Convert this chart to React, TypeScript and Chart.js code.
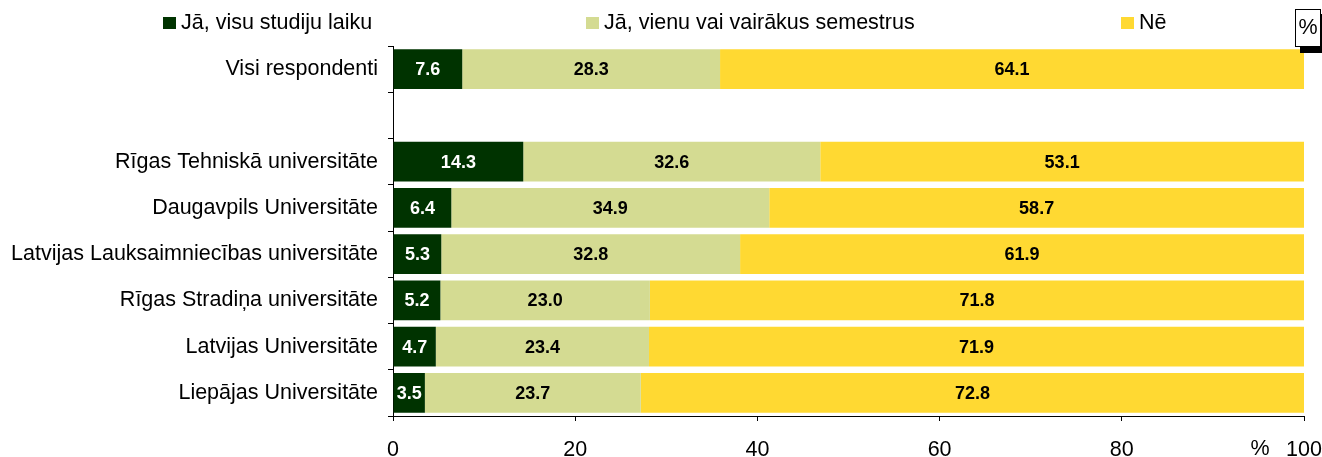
import React, { useEffect, useRef } from 'react';
import { Chart, registerables } from 'chart.js';

Chart.register(...registerables);

const categories = [
  'Visi respondenti',
  '',
  'Rīgas Tehniskā universitāte',
  'Daugavpils Universitāte',
  'Latvijas Lauksaimniecības universitāte',
  'Rīgas Stradiņa universitāte',
  'Latvijas Universitāte',
  'Liepājas Universitāte',
];
const seriesNames = ['Jā, visu studiju laiku', 'Jā, vienu vai vairākus semestrus', 'Nē'];
const allStudies = [7.6, null, 14.3, 6.4, 5.3, 5.2, 4.7, 3.5];
const someSemesters = [28.3, null, 32.6, 34.9, 32.8, 23.0, 23.4, 23.7];
const notAtAll = [64.1, null, 53.1, 58.7, 61.9, 71.8, 71.9, 72.8];
const xTicks = [0, 20, 40, 60, 80, 100];

const colors = ['#003300', '#D4DB92', '#FFD932'];
const FONT = 'Arial, "Liberation Sans", sans-serif';
const FS = 21.5;

const labelsPlugin = {
  id: 'barLabels',
  afterDatasetsDraw(chart: any) {
    const ctx = chart.ctx;
    ctx.save();
    ctx.font = `bold 18px ${FONT}`;
    ctx.textAlign = 'center';
    ctx.textBaseline = 'middle';
    chart.data.datasets.forEach((ds: any, di: number) => {
      const meta = chart.getDatasetMeta(di);
      meta.data.forEach((bar: any, i: number) => {
        const v = ds.data[i];
        if (v === null || v === undefined) return;
        const x = (bar.x + bar.base) / 2;
        ctx.fillStyle = di === 0 ? '#FFFFFF' : '#000000';
        ctx.fillText(v.toFixed(1), x, bar.y + 1);
      });
    });
    ctx.restore();
  },
};

const decorPlugin = {
  id: 'decor',
  afterDraw(chart: any) {
    const ctx = chart.ctx;
    ctx.save();
    // legend
    const items = [
      { x: 163, label: seriesNames[0] },
      { x: 586, label: seriesNames[1] },
      { x: 1121, label: seriesNames[2] },
    ];
    ctx.font = `${FS}px ${FONT}`;
    ctx.textBaseline = 'middle';
    ctx.textAlign = 'left';
    items.forEach((it, i) => {
      ctx.fillStyle = colors[i];
      ctx.fillRect(it.x, 17, 13, 12);
      ctx.fillStyle = '#000';
      ctx.fillText(it.label, it.x + 18, 23);
    });
    // % box top right
    ctx.fillStyle = '#000';
    ctx.fillRect(1300, 14, 22, 39);
    ctx.fillStyle = '#fff';
    ctx.fillRect(1295, 9, 26, 38);
    ctx.strokeStyle = '#000';
    ctx.lineWidth = 1;
    ctx.strokeRect(1295.5, 9.5, 25, 37);
    ctx.fillStyle = '#000';
    ctx.textAlign = 'center';
    ctx.font = `${FS}px ${FONT}`;
    ctx.fillText('%', 1308, 28);
    // % near last x tick
    const xs = chart.scales.x;
    ctx.fillText('%', xs.getPixelForValue(100) - 44, 449);
    ctx.restore();
  },
};

export default function App() {
  const ref = useRef<HTMLCanvasElement>(null);
  useEffect(() => {
    document.body.style.margin = '0';
    const chart = new Chart(ref.current!, {
      type: 'bar',
      data: {
        labels: categories,
        datasets: [
          { label: seriesNames[0], data: allStudies, backgroundColor: colors[0] },
          { label: seriesNames[1], data: someSemesters, backgroundColor: colors[1] },
          { label: seriesNames[2], data: notAtAll, backgroundColor: colors[2] },
        ],
      },
      options: {
        indexAxis: 'y',
        animation: false,
        responsive: false,
        maintainAspectRatio: false,
        datasets: { bar: { barPercentage: 0.86, categoryPercentage: 1 } } as any,
        layout: { padding: { top: 46, right: 18, left: 0, bottom: 0 } },
        plugins: { legend: { display: false }, tooltip: { enabled: false } },
        scales: {
          x: {
            stacked: true,
            min: 0,
            max: 100,
            afterBuildTicks(scale: any) {
              scale.ticks = xTicks.map((v) => ({ value: v }));
            },
            afterFit(scale: any) {
              scale.height = 41;
              scale.paddingLeft = 0;
              scale.paddingRight = 0;
            },
            ticks: { color: '#000', font: { size: FS, family: FONT }, padding: 16, maxRotation: 0 },
            grid: { drawOnChartArea: false, tickLength: 5, color: '#000', tickColor: '#000' },
            border: { color: '#000', width: 1 },
          },
          y: {
            stacked: true,
            afterFit(scale: any) {
              scale.width = 393;
              scale.paddingTop = 0;
              scale.paddingBottom = 0;
            },
            ticks: { color: '#000', font: { size: FS, family: FONT }, padding: 10, autoSkip: false },
            grid: { drawOnChartArea: false, tickLength: 5, color: '#000', tickColor: '#000', offset: true },
            border: { color: '#000', width: 1 },
          },
        },
      },
      plugins: [labelsPlugin, decorPlugin],
    });
    return () => chart.destroy();
  }, []);
  return <canvas ref={ref} width={1322} height={457} style={{ display: 'block' }} />;
}
